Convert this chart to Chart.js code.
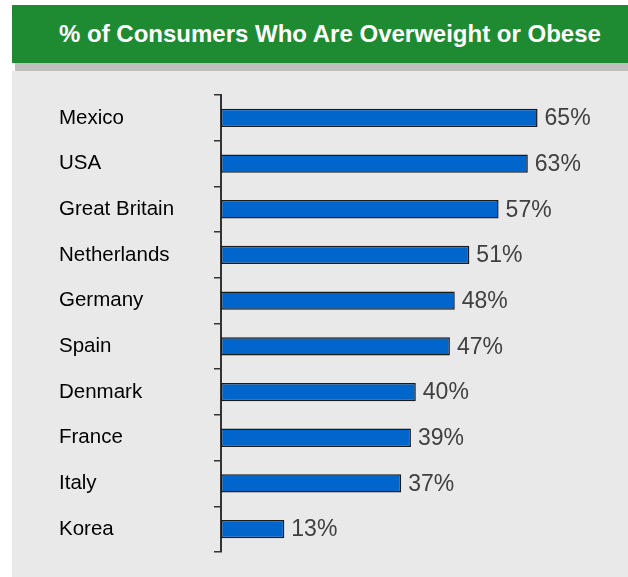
<!DOCTYPE html>
<html>
<head>
<meta charset="utf-8">
<script src="https://cdn.jsdelivr.net/npm/chart.js@4/dist/chart.umd.min.js"></script>
<style>
  html, body { margin: 0; padding: 0; background: #fff; }
  body { width: 628px; height: 577px; position: relative; overflow: hidden; font-family: "Liberation Sans", Arial, sans-serif; }
  .header {
    position: absolute; left: 12px; top: 5px; width: 616px; height: 58px;
    background: #1e8b33; color: #fff; font-weight: bold; font-size: 24px;
    line-height: 58px; padding-left: 47px; box-sizing: border-box; white-space: nowrap;
  }
  .shadow { position: absolute; left: 15px; top: 63px; width: 613px; height: 8px; background: #bfbfbf; }
  .panel { position: absolute; left: 12px; top: 71px; width: 616px; height: 506px; background: #e9e9e9; }
  #chart { position: absolute; left: 0; top: 0; }
</style>
</head>
<body>
<div class="header">% of Consumers Who Are Overweight or Obese</div>
<div class="shadow"></div>
<div class="panel"></div>
<canvas id="chart" width="628" height="577"></canvas>
<script>
  const countries = ["Mexico", "USA", "Great Britain", "Netherlands", "Germany", "Spain", "Denmark", "France", "Italy", "Korea"];
  const shares = [65, 63, 57, 51, 48, 47, 40, 39, 37, 13];

  const FONT = '"Liberation Sans", Arial, sans-serif';

  // writes "NN%" just past the end of each bar
  const valueLabels = {
    id: "valueLabels",
    afterDatasetsDraw(chart) {
      const ctx = chart.ctx;
      const meta = chart.getDatasetMeta(0);
      ctx.save();
      ctx.font = `23px ${FONT}`;
      ctx.fillStyle = "#404040";
      ctx.textAlign = "left";
      ctx.textBaseline = "middle";
      meta.data.forEach((bar, i) => {
        ctx.fillText(`${shares[i]}%`, bar.x + 7, bar.y + 1);
      });
      ctx.restore();
    },
  };

  new Chart(document.getElementById("chart").getContext("2d"), {
    type: "bar",
    data: {
      labels: countries,
      datasets: [
        {
          data: shares,
          backgroundColor: "#0066cc",
          borderColor: "#1a1a1a",
          borderWidth: 1.5,
          borderSkipped: false,
          barPercentage: 0.4,
          categoryPercentage: 1,
        },
      ],
    },
    options: {
      indexAxis: "y",
      responsive: false,
      animation: false,
      layout: { padding: { top: 95, bottom: 25, left: 59, right: 17.4 } },
      plugins: { legend: { display: false }, tooltip: { enabled: false } },
      scales: {
        x: { display: false, min: 0, max: 80 },
        y: {
          afterFit(scale) {
            scale.width = 162;
          },
          border: { display: true, color: "#333", width: 2 },
          grid: {
            display: true,
            offset: true,
            drawOnChartArea: false,
            drawTicks: true,
            tickLength: 7,
            color: "#333",
            lineWidth: 1.5,
          },
          ticks: {
            crossAlign: "far",
            color: "#000",
            font: { family: FONT, size: 20.5 },
          },
        },
      },
    },
    plugins: [valueLabels],
  });
</script>
</body>
</html>
